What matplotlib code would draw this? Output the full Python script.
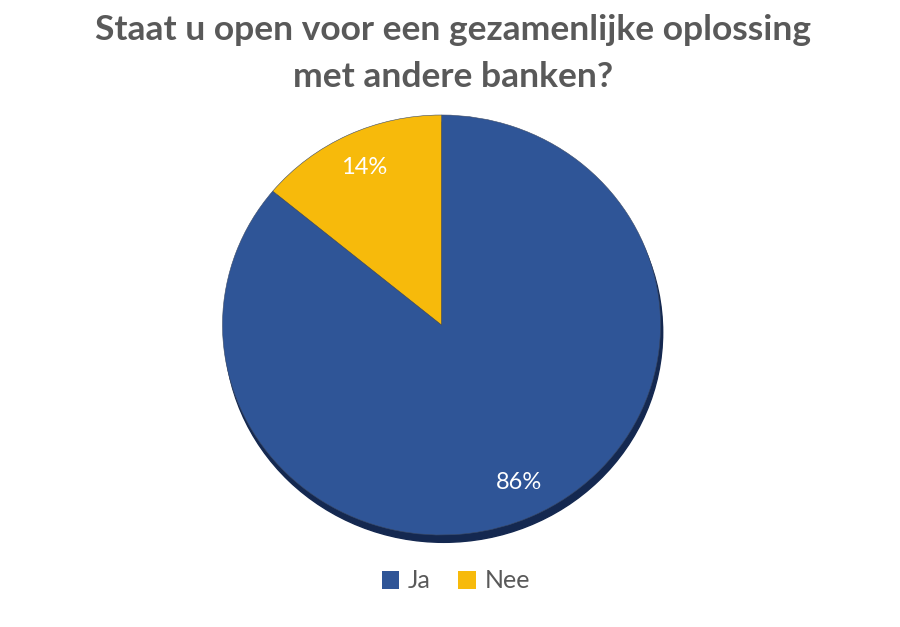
import matplotlib
matplotlib.use("Agg")
import matplotlib.pyplot as plt
from matplotlib.patches import Patch, Ellipse

plt.rcParams['font.family'] = ['Lato', 'DejaVu Sans']

title_lines = ['Staat u open voor een gezamenlijke oplossing', 'met andere banken?']
labels = ['Ja', 'Nee']
values = [86, 14]
colors = ['#2F5597', '#F7BA0B']
shadow_color = '#142850'
text_gray = '#595959'

W, H = 900, 627
cx, cy = 441.5, 325      # pie centre in pixels (from top)
rx, ry = 219, 210        # slightly squashed, as in the reference

fig = plt.figure(figsize=(W / 100, H / 100), dpi=100)
ax = fig.add_axes([0, 0, 1, 1])

# soft shadow under the pie
ax.add_patch(Ellipse((0.01, -0.035), 2, 2, color=shadow_color, zorder=0))

wedges, texts, autotexts = ax.pie(values, colors=colors, startangle=90, counterclock=False,
                                  autopct='%d%%', pctdistance=0.83,
                                  wedgeprops=dict(linewidth=0.4, edgecolor='#3b4a66'),
                                  textprops=dict(color='white', fontsize=17))
for w in wedges:
    w.set_zorder(1)

ax.set_aspect('auto')
ax.set_xlim(-cx / rx, (W - cx) / rx)
ax.set_ylim(-(H - cy) / ry, cy / ry)
ax.axis('off')

fig.text(453 / W, 1 - 30 / H, title_lines[0], ha='center', va='center',
         fontsize=25.5, fontweight='bold', color=text_gray)
fig.text(453 / W, 1 - 77 / H, title_lines[1], ha='center', va='center',
         fontsize=25.5, fontweight='bold', color=text_gray)

handles = [Patch(facecolor=c, edgecolor='none') for c in colors]
fig.legend(handles, labels, loc='center', bbox_to_anchor=(456 / W, 1 - 581 / H), ncol=2,
           frameon=False, fontsize=18, handlelength=0.7, handleheight=0.7,
           handletextpad=0.35, columnspacing=1.1, labelcolor=text_gray)

fig.savefig('out.png', dpi=100, facecolor='white')
